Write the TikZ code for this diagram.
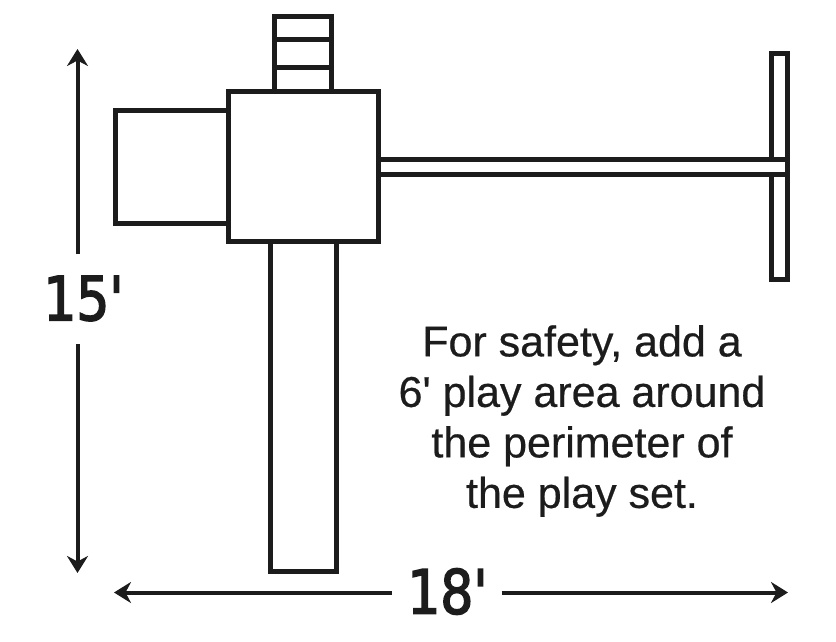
\documentclass[tikz,border=0pt]{standalone}
\usepackage{fontspec}
\newfontfamily\notefont[FakeBold=0.5]{Liberation Sans}
\newfontfamily\bigfont[FakeBold=2.5,FakeStretch=0.85]{DejaVu Sans}
\usetikzlibrary{arrows.meta}
\definecolor{ink}{HTML}{1C1C1C}
\tikzset{
  x=1pt,y=-1pt,
  part/.style={draw=ink,line width=5pt,line join=miter},
  dimone/.style={draw=ink,line width=4pt,-{Stealth[length=17pt,width=21pt,inset=5.5pt]}},
  big/.style={text=ink,inner sep=0pt,font=\bigfont\fontsize{61}{61}\selectfont},
  note/.style={text=ink,inner sep=0pt,align=center,font=\notefont\fontsize{43}{50.5}\selectfont}
}
\begin{document}
\begin{tikzpicture}
\useasboundingbox (0,0) rectangle (836,642);
% ladder
\draw[part] (274.5,91) -- (274.5,16.5) -- (331.5,16.5) -- (331.5,91);
\draw[part] (274.5,40) -- (331.5,40);
\draw[part] (274.5,68) -- (331.5,68);
% left deck
\draw[part] (228,110.2) -- (115.2,110.2) -- (115.2,223) -- (228,223);
% slide
\draw[part] (270,241) -- (270,571.5) -- (336.5,571.5) -- (336.5,241);
% swing beam and end frame
\draw[part] (378,159) -- (787.5,159);
\draw[part] (378,174.5) -- (787.5,174.5);
\draw[part] (771.5,159) -- (771.5,54) -- (787.5,54) -- (787.5,279) -- (771.5,279) -- (771.5,174.5);
% main deck
\draw[part] (228.5,91.5) rectangle (378.5,241.5);
% dimensions
\node[big,anchor=center] (h) at (83.5,298.5) {15'};
\node[big,anchor=center] (w) at (447.5,591.5) {18'};
\coordinate (top) at (77.5,49);
\coordinate (topend) at (77.5,254);
\coordinate (bot) at (77.5,573);
\coordinate (botend) at (77.5,344);
\coordinate (lft) at (114,592.5);
\coordinate (lftend) at (392,592.5);
\coordinate (rgt) at (788,592.5);
\coordinate (rgtend) at (501.5,592.5);
\draw[dimone] (topend) -- (top);
\draw[dimone] (botend) -- (bot);
\draw[dimone] (lftend) -- (lft);
\draw[dimone] (rgtend) -- (rgt);
\node[note] (n) at (582,421) {For safety, add a\\6' play area around\\the perimeter of\\the play set.};
\end{tikzpicture}
\end{document}
